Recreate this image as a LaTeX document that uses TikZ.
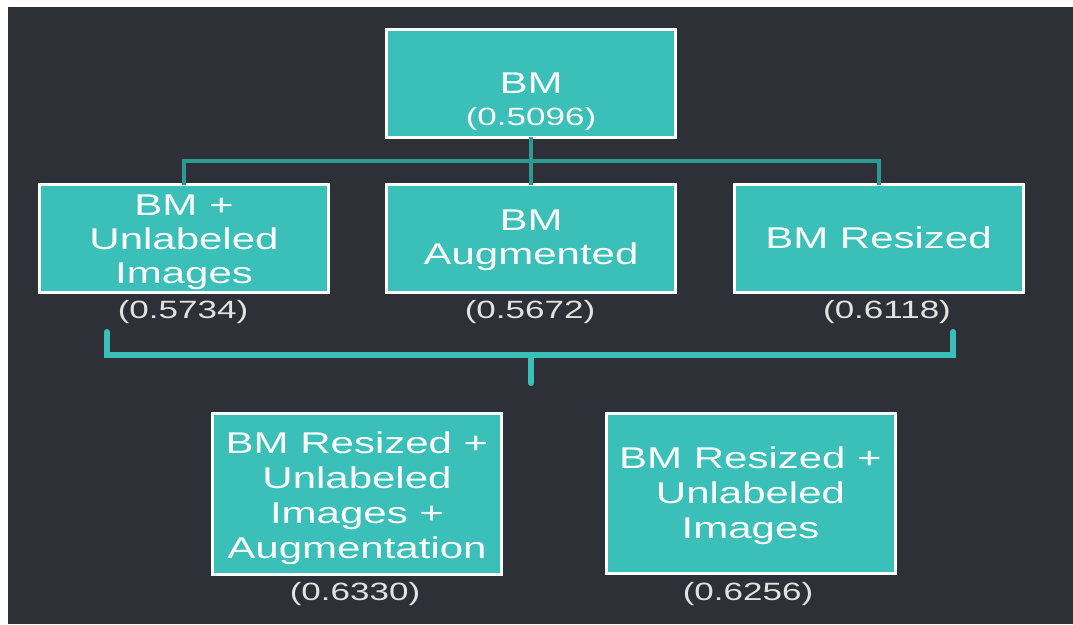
\documentclass[tikz,border=0pt]{standalone}
\usepackage{fontspec}
\setmainfont{Liberation Sans}[FakeStretch=1.4]
\definecolor{bgdark}{HTML}{2E3038}
\definecolor{tealbox}{HTML}{3BBFB9}
\definecolor{tealline}{HTML}{2A9A93}
\definecolor{labelgray}{HTML}{E2E2E2}
\begin{document}
\begin{tikzpicture}[x=1pt,y=-1pt,
  box/.style={draw=white,line width=3pt,fill=tealbox,
    minimum width=289pt,minimum height=108pt,inner sep=0pt,outer sep=0pt},
  boxtext/.style={text=white,inner sep=0pt,align=center,
    font=\fontsize{30}{34}\selectfont},
  tallbox/.style={boxtext,font=\fontsize{30}{35}\selectfont},
  score/.style={text=labelgray,inner sep=0pt,font=\fontsize{25}{28}\selectfont},
  thin link/.style={draw=tealline,line width=4pt},
  bracket/.style={draw=tealbox,line width=6pt,line cap=round}]
  % page and dark panel
  \fill[white] (0,0) rectangle (1073,624);
  \fill[bgdark] (8,7) rectangle (1073,624);
  \useasboundingbox (0,0) rectangle (1073,624);

  % base model
  \node[box] (bm) at (531,83) {};
  \node[boxtext] (bmt) at (531,83) {BM};
  \node[score,text=white] (bms) at (531,119.5) {(0.5096)};

  % first level variants
  \node[box] (unl) at (184,238.5) {};
  \node[box] (aug) at (531,238.5) {};
  \node[box] (res) at (878.5,238.5) {};
  \node[boxtext] (unlt) at ([yshift=-3.5pt]unl.center) {BM +\\Unlabeled\\Images};
  \node[boxtext] (augt) at ([yshift=-2pt]aug.center) {BM\\Augmented};
  \node[boxtext] (rest) at ([yshift=1pt]res.center) {BM Resized};
  \node[score] (s1) at (183,312.5) {(0.5734)};
  \node[score] (s2) at (530,312.5) {(0.5672)};
  \node[score] (s3) at (887,312.5) {(0.6118)};

  % tree links from the base model
  \coordinate (split) at (531,161);
  \draw[thin link] (bm.south) -- (split);
  \draw[thin link] (split) -| (unl.north);
  \draw[thin link] (split) -| (res.north);
  \draw[thin link] (split) -- (aug.north);

  % bracket joining the first level results
  \coordinate (bl) at (107,332);
  \coordinate (br) at (953,332);
  \coordinate (bmid) at (531,355);
  \coordinate (stem) at (531,383);
  \draw[bracket] (bl) |- (bmid) -| (br);
  \draw[bracket] (bmid) -- (stem);

  % combined models
  \node[box,minimum height=161pt] (all) at (357,494) {};
  \node[box,minimum height=160pt] (ru) at (750.5,493.5) {};
  \node[tallbox] (allt) at ([yshift=-4.5pt]all.center)
    {BM Resized +\\Unlabeled\\Images +\\Augmentation};
  \node[tallbox] (rut) at ([yshift=-2.5pt]ru.center)
    {BM Resized +\\Unlabeled\\Images};
  \node[score] (s4) at (355,594.5) {(0.6330)};
  \node[score] (s5) at (748,594.5) {(0.6256)};
\end{tikzpicture}
\end{document}
